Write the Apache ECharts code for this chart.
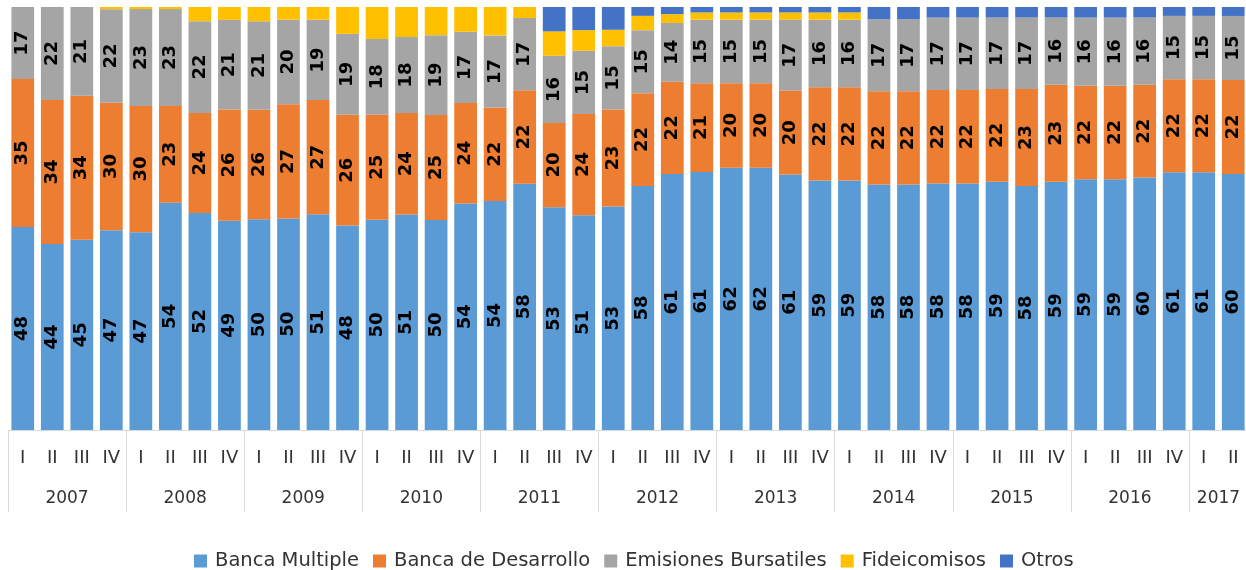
<!DOCTYPE html>
<html><head><meta charset="utf-8">
<script src="https://cdn.jsdelivr.net/npm/echarts@6/dist/echarts.min.js"></script>
<style>html,body{margin:0;padding:0;background:#fff}#c{width:1246px;height:570px}</style>
</head><body><div id="c"></div>
<script>
const years = ['2007','2008','2009','2010','2011','2012','2013','2014','2015','2016','2017'];
const quartersPerYear = [4,4,4,4,4,4,4,4,4,4,2];
const quarterNames = ['I','II','III','IV'];
const seriesNames = ['Banca Multiple','Banca de Desarrollo','Emisiones Bursatiles','Fideicomisos','Otros'];
const colors = ['#5B9BD5','#ED7D31','#A5A5A5','#FFC000','#4472C4'];

const bancaMultiple = [48,44,45,47, 47,54,52,49, 50,50,51,48, 50,51,50,54, 54,58,53,51, 53,58,61,61, 62,62,61,59, 59,58,58,58, 58,59,58,59, 59,59,60,61, 61,60];
const bancaDesarrollo = [35,34,34,30, 30,23,24,26, 26,27,27,26, 25,24,25,24, 22,22,20,24, 23,22,22,21, 20,20,20,22, 22,22,22,22, 22,22,23,23, 22,22,22,22, 22,22];
const emisionesBursatiles = [17,22,21,22, 23,23,22,21, 21,20,19,19, 18,18,19,17, 17,17,16,15, 15,15,14,15, 15,15,17,16, 16,17,17,17, 17,17,17,16, 16,16,16,15, 15,15];
const fideicomisos = [0,0,0,0.5, 0.5,0.5,3.4,3.0, 3.4,3.0,3.0,6.3, 7.6,7.1,6.7,5.9, 6.7,2.6,5.8,4.9, 3.9,3.4,2.1,1.7, 1.7,1.7,1.7,1.7, 1.7,0,0,0, 0,0,0,0, 0,0,0,0, 0,0];
const otros = [0,0,0,0, 0,0,0,0, 0,0,0,0, 0,0,0,0, 0,0,5.8,5.5, 5.4,2.1,1.7,1.3, 1.3,1.3,1.3,1.3, 1.3,2.9,2.9,2.5, 2.5,2.5,2.5,2.5, 2.5,2.5,2.5,2.1, 2.1,2.1];

// categories
const quarterCats = [];
years.forEach((y, yi) => {
  for (let k = 0; k < quartersPerYear[yi]; k++) quarterCats.push(y + '-' + quarterNames[k]);
});
const nQ = quarterCats.length;
const nSlots = nQ * 2 + 1;
const slotCats = [];
for (let i = 0; i < nSlots; i++) slotCats.push(String(i));
const yearLabelAt = new Array(nSlots).fill('');
const boundaries = new Set();
let s = 0;
years.forEach((y, yi) => {
  const n = quartersPerYear[yi];
  boundaries.add(s * 2);
  yearLabelAt[s * 2 + n] = y;
  s += n;
});
boundaries.add(s * 2);

const raw = [bancaMultiple, bancaDesarrollo, emisionesBursatiles, fideicomisos, otros];
const totals = quarterCats.map((_, i) => raw.reduce((acc, a) => acc + a[i], 0));

const chart = echarts.init(document.getElementById('c'), null, {renderer: 'canvas'});
chart.setOption({
  animation: false,
  color: colors,
  grid: {left: 8, right: -2, top: 7, bottom: 140, containLabel: false, outerBoundsMode: 'none'},
  legend: {
    data: seriesNames, left: 189, top: 546, icon: 'rect',
    itemWidth: 13, itemHeight: 13, itemGap: 14,
    textStyle: {fontFamily: 'DejaVu Sans', fontSize: 19.5, color: '#333', padding: [0, 0, 0, 3]}
  },
  xAxis: [
    {
      type: 'category', data: quarterCats, position: 'bottom',
      axisLine: {show: true, lineStyle: {color: '#d9d9d9', width: 1}},
      axisTick: {show: false},
      axisLabel: {interval: 0, margin: 19, fontFamily: 'DejaVu Sans', fontSize: 18, color: '#333',
        formatter: v => v.split('-')[1]}
    },
    {
      type: 'category', data: slotCats, position: 'bottom', boundaryGap: false,
      axisLine: {show: false},
      axisTick: {show: true, interval: (i) => boundaries.has(i), length: 82, lineStyle: {color: '#d9d9d9', width: 1}},
      axisLabel: {interval: 0, margin: 60, fontFamily: 'DejaVu Sans', fontSize: 17, color: '#333',
        formatter: (v, i) => yearLabelAt[i]}
    }
  ],
  yAxis: {type: 'value', min: 0, max: 100, show: false},
  series: raw.map((arr, si) => ({
    name: seriesNames[si], type: 'bar', stack: 'total', xAxisIndex: 0,
    barCategoryGap: '23%',
    data: arr.map((v, i) => v / totals[i] * 100),
    itemStyle: {color: colors[si]},
    emphasis: {disabled: true},
    label: si < 3 ? {
      show: true, position: 'inside', rotate: 90,
      formatter: p => String(arr[p.dataIndex]),
      color: '#000', fontFamily: 'DejaVu Sans', fontWeight: 'bold', fontSize: 18,
      textBorderWidth: 0
    } : {show: false}
  }))
});
</script></body></html>
